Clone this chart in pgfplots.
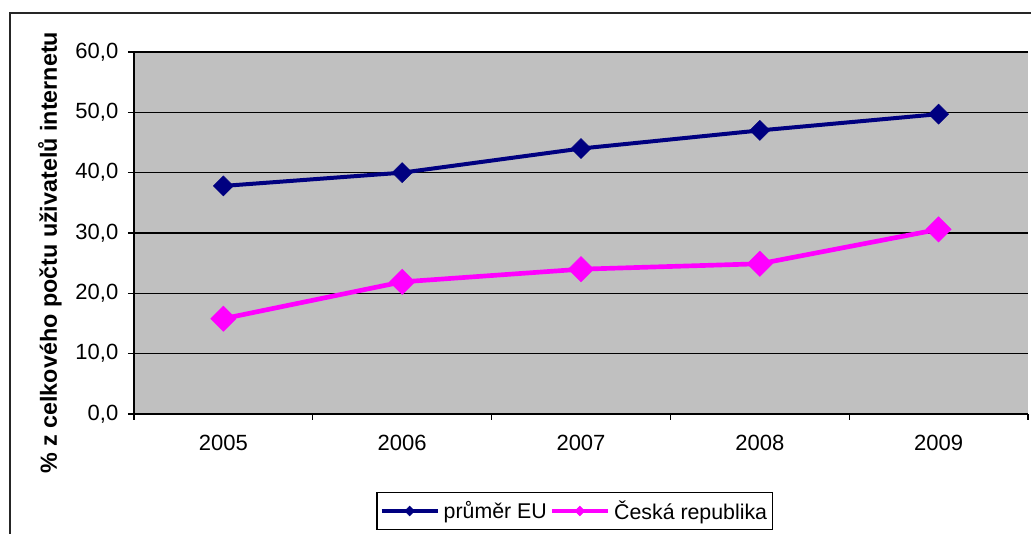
\documentclass[border=0pt]{standalone}
\usepackage{pgfplots}
\pgfplotsset{compat=1.18}
\usepackage{fontspec}
\setmainfont{Liberation Sans}
\definecolor{euBlue}{HTML}{000080}
\definecolor{czPink}{HTML}{FF00FF}
\definecolor{plotGray}{HTML}{C0C0C0}
\begin{document}
\begin{tikzpicture}
\path[use as bounding box] (0pt,0pt) rectangle (773.25pt,400.5pt);
\clip (0pt,0pt) rectangle (773.25pt,400.5pt);
\draw[line width=1.2pt, black!85] (7.5pt,-15pt) rectangle (795pt,390.75pt);
\begin{axis}[
  at={(100.5pt,90pt)}, anchor=south west,
  scale only axis, width=670.5pt, height=271.5pt,
  xmin=-0.5, xmax=4.5, ymin=0, ymax=60,
  axis lines*=left,
  axis line style={-, black, line width=0.9pt},
  axis background/.style={fill=plotGray},
  xtick={-0.5,0.5,1.5,2.5,3.5,4.5},
  x tick label as interval,
  xticklabels={2005,2006,2007,2008,2009},
  ytick={0,10,...,60},
  ymajorgrids,
  grid style={black, line width=0.9pt},
  tick align=outside,
  major tick length=4.5pt,
  tick style={black, line width=0.9pt},
  yticklabel style={/pgf/number format/fixed, /pgf/number format/fixed zerofill,
    /pgf/number format/precision=1, /pgf/number format/use comma,
    /pgf/number format/assume math mode=true, xshift=-3.75pt},
  xticklabel style={yshift=-8pt},
  ticklabel style={font=\fontsize{16.5}{19}\selectfont},
  ylabel={\% z celkového počtu uživatelů internetu},
  ylabel style={font=\bfseries\fontsize{17.5}{20}\selectfont,
    at={(axis description cs:-0.094,0.445)}, anchor=center},
  legend style={at={(0.493,-0.268)}, anchor=center, legend columns=2,
    draw=black, line width=0.9pt, fill=white,
    font=\fontsize{16}{19}\selectfont,
    /tikz/every odd column/.append style={column sep=1pt},
    inner xsep=2pt, inner ysep=4pt},
  legend image code/.code={%
    \draw[#1, mark repeat=2, mark phase=2, mark size=2.6pt]
      plot coordinates {(0pt,0pt) (21pt,0pt) (42pt,0pt)};},
]
\addplot[euBlue, line width=3pt, mark=square*, mark size=5.3pt,
  mark options={rotate=45, line width=0.4pt}]
  coordinates {(0,37.8) (1,40.0) (2,44.0) (3,47.0) (4,49.7)};
\addlegendentry{průměr EU}
\addplot[czPink, line width=3.5pt, mark=square*, mark size=6.7pt,
  mark options={rotate=45, line width=0.4pt}]
  coordinates {(0,15.8) (1,21.9) (2,24.0) (3,24.9) (4,30.6)};
\addlegendentry{Česká republika}
\end{axis}
\end{tikzpicture}
\end{document}
